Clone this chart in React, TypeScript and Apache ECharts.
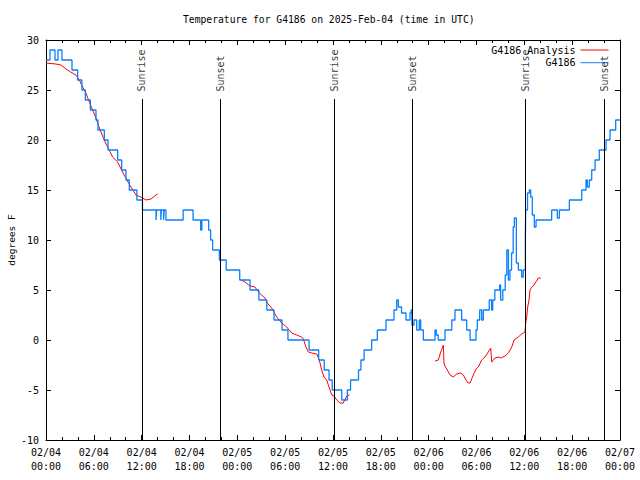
import React, { useEffect, useRef } from "react";
import * as echarts from "echarts";

// ---- Data (hours since 2025-02-04 00:00 UTC, degrees F) ----
const dayLabels = ["02/04", "02/05", "02/06", "02/07"];

const sunHours = [12.04, 21.86, 36.13, 45.95, 60.12, 70.03];
const sunLabels = ["Sunrise", "Sunset", "Sunrise", "Sunset", "Sunrise", "Sunset"];

// Observations (each point starts a new level)
const observed: [number, number][] = [
  [0, 28], [0.5, 29], [1.13, 28], [1.5, 29], [2.0, 28], [3.26, 27], [3.97, 26], [4.5, 25],
  [4.93, 24], [5.56, 23], [6.27, 22], [6.52, 21], [7.32, 20], [7.78, 19], [8.99, 18], [9.49, 17],
  [10.03, 16], [10.45, 15], [11.4, 14], [12.1, 13], [13.8, 12], [13.88, 13], [14.4, 12], [14.48, 13],
  [14.75, 12], [14.83, 13], [15.05, 12], [17.2, 13], [18.45, 12], [19.4, 11], [19.55, 12], [20.4, 11],
  [20.65, 10], [20.9, 9], [21.75, 8], [22.6, 7], [24.3, 6], [25.6, 5], [26.7, 4], [27.7, 3],
  [28.6, 2], [29.6, 1], [30.35, 0], [33.0, -1], [34.2, -2], [34.9, -3], [35.5, -4], [35.9, -5],
  [37.1, -6], [37.8, -5], [38.2, -4], [39.2, -3], [39.5, -2], [39.9, -1], [40.85, 0], [41.56, 1],
  [42.65, 2], [43.65, 3], [43.99, 4], [44.2, 3.3], [44.6, 2.7], [45.16, 2], [45.66, 2.7], [45.8, 3],
  [45.9, 1.5], [46.16, 2], [46.5, 1], [46.83, 2], [47.0, 1], [47.33, 0], [48.8, 1], [48.95, 0.5],
  [49.2, 0], [50.05, 1], [50.9, 2], [51.3, 3], [52.14, 2], [52.77, 1], [53.2, 0], [53.94, 1],
  [54.1, 2], [54.4, 3], [54.65, 2], [54.86, 3], [55.6, 4], [55.9, 3], [56.03, 4], [56.3, 5],
  [56.9, 5.5], [57.03, 4], [57.3, 5], [57.6, 6.5], [57.8, 9], [58.0, 6], [58.2, 7], [58.4, 8.7],
  [58.6, 11.3], [58.75, 12.2], [59.0, 7.7], [59.25, 7], [59.67, 6.3], [59.87, 7], [60.13, 10.3], [60.17, 13],
  [60.4, 14.7], [60.63, 15], [60.8, 14.3], [61.0, 12.5], [61.25, 11.3], [61.47, 12], [63.43, 13], [64.14, 12.2],
  [64.4, 13], [65.65, 14], [67.2, 15], [67.74, 16], [67.9, 15.3], [68.15, 16], [68.45, 17], [68.87, 18],
  [69.4, 19], [70.25, 20], [70.75, 21], [71.46, 22], [72, 22],
];

// Analysis, three separate runs
const analysisA: [number, number][] = [
  [0, 27.7], [1.25, 27.6], [1.88, 27.5], [2.5, 27.1], [3.1, 26.8], [3.76, 26.5], [4.18, 26.0],
  [4.6, 25.3], [5.0, 24.7], [5.43, 23.8], [5.85, 23.0], [6.27, 22.2], [6.69, 21.2], [7.3, 20.0],
  [7.73, 19.3], [8.36, 18.3], [8.99, 17.8], [9.6, 16.8], [10.0, 16.2], [10.66, 15.3], [11.29, 14.5],
  [11.9, 14.3], [12.54, 14.0], [13.17, 14.1], [13.8, 14.5], [14.0, 14.6],
];
const analysisB: [number, number][] = [
  [24.46, 6.0], [24.96, 5.8], [25.59, 5.4], [26.2, 5.3], [26.76, 4.7], [27.47, 4.2], [27.76, 3.7],
  [28.31, 3.2], [28.94, 2.3], [29.57, 1.7], [30.19, 1.3], [30.82, 0.7], [31.45, 0.5], [32.07, 0.3],
  [32.28, 0.1], [32.61, -0.7], [32.9, -1.2], [33.33, -1.3], [33.96, -1.4], [34.28, -2], [34.58, -3],
  [34.87, -3.7], [35.21, -4], [35.5, -4.7], [35.84, -5.5], [36.13, -5.6], [36.46, -6], [36.88, -6.3],
  [37.29, -6.3], [37.72, -5.6], [38.07, -5.5],
];
const analysisC: [number, number][] = [
  [48.8, -2.1], [49.21, -2.0], [49.51, -1.2], [49.76, -0.7], [49.84, -0.5], [49.92, -2.3], [50.05, -2.6],
  [50.34, -3.0], [50.68, -3.5], [51.09, -3.7], [51.52, -3.4], [52.02, -3.3], [52.35, -3.5], [52.68, -4.0],
  [52.97, -4.3], [53.19, -4.3], [53.6, -3.5], [53.94, -2.9], [54.23, -2.7], [54.65, -2.0], [55.07, -1.7],
  [55.48, -1.2], [55.78, -0.8], [55.91, -2.2], [56.32, -1.8], [56.74, -1.7], [57.04, -1.8], [57.58, -1.6],
  [57.99, -1.3], [58.42, -0.7], [58.71, 0], [59.24, 0.3], [59.67, 0.6], [60.09, 0.8], [60.17, 1.7],
  [60.3, 2.3], [60.42, 3.3], [60.59, 4], [60.71, 5], [60.93, 5.3], [61.13, 5.4], [61.34, 5.7],
  [61.55, 5.9], [61.75, 6.2], [62.05, 6.2],
];

const MONO = "'DejaVu Sans Mono', monospace";
const BLUE = "#0a80ff";
const RED = "#ff0000";
const LINE_TOP = 24.1;

function pad(n: number) {
  return n < 10 ? "0" + n : String(n);
}

export default function App() {
  const ref = useRef<HTMLDivElement>(null);

  useEffect(() => {
    if (!ref.current) return;
    const chart = echarts.init(ref.current, undefined, { renderer: "svg" });

    const xCommon = {
      type: "value",
      min: 0,
      max: 72,
      interval: 6,
      axisLine: { show: true, onZero: false, lineStyle: { color: "#000", width: 1 } },
      axisTick: { show: true, inside: true, length: 5, lineStyle: { color: "#000" } },
      minorTick: { show: true, splitNumber: 3, length: 3, lineStyle: { color: "#000" } },
      splitLine: { show: false },
    };
    const yCommon = {
      type: "value",
      min: -10,
      max: 30,
      interval: 5,
      axisLine: { show: true, onZero: false, lineStyle: { color: "#000", width: 1 } },
      axisTick: { show: true, inside: true, length: 5, lineStyle: { color: "#000" } },
      splitLine: { show: false },
    };
    const legendCommon = {
      orient: "vertical",
      right: 31,
      padding: 0,
      align: "right",
      itemWidth: 28,
      itemHeight: 10,
      selectedMode: false,
      itemStyle: { opacity: 0 },
      lineStyle: { width: 1 },
      textStyle: { fontFamily: MONO, fontSize: 10, color: "#000" },
    };

    const analysisStyle = {
      type: "line",
      name: "G4186 Analysis",
      symbol: "none",
      showSymbol: false,
      lineStyle: { color: RED, width: 1 },
      itemStyle: { color: RED },
      z: 2,
    };

    chart.setOption({
      animation: false,
      backgroundColor: "#ffffff",
      title: {
        text: "Temperature for G4186 on 2025-Feb-04 (time in UTC)",
        left: 183,
        top: 14,
        padding: 0,
        textStyle: { fontFamily: MONO, fontSize: 9.7, fontWeight: "normal", color: "#000" },
      },
      grid: {
        left: 46,
        right: 20,
        top: 40,
        bottom: 40,
        containLabel: false,
        outerBoundsMode: "none",
      },
      legend: [
        { ...legendCommon, data: ["G4186 Analysis"], top: 45 },
        { ...legendCommon, data: ["G4186"], top: 57.7 },
      ],
      xAxis: [
        {
          ...xCommon,
          position: "bottom",
          axisLabel: {
            margin: 5,
            fontFamily: MONO,
            fontSize: 10,
            lineHeight: 14,
            color: "#000",
            formatter: (v: number) => {
              const d = Math.floor(v / 24);
              return dayLabels[d] + "\n" + pad(v % 24) + ":00";
            },
          },
        },
        { ...xCommon, position: "top", axisLabel: { show: false } },
      ],
      yAxis: [
        {
          ...yCommon,
          position: "left",
          name: "degrees F",
          nameLocation: "middle",
          nameGap: 30,
          nameRotate: 90,
          nameMoveOverlap: false,
          nameTextStyle: { fontFamily: MONO, fontSize: 9.5, color: "#000" },
          axisLabel: { margin: 7, fontFamily: MONO, fontSize: 10, color: "#000" },
        },
        { ...yCommon, position: "right", axisLabel: { show: false } },
      ],
      series: [
        { ...analysisStyle, data: analysisA },
        { ...analysisStyle, data: analysisB },
        { ...analysisStyle, data: analysisC },
        {
          type: "line",
          name: "G4186",
          step: "end",
          data: observed,
          symbol: "none",
          showSymbol: false,
          lineStyle: { color: BLUE, width: 1.3 },
          itemStyle: { color: BLUE },
          z: 3,
        },
        {
          type: "scatter",
          name: "sun",
          data: sunHours.map((h, i) => ({ value: [h, LINE_TOP], name: sunLabels[i] })),
          symbol: "circle",
          symbolSize: 1,
          itemStyle: { color: "rgba(0,0,0,0)" },
          silent: true,
          label: {
            show: true,
            formatter: "{b}",
            position: "top",
            distance: 7,
            rotate: 90,
            align: "left",
            verticalAlign: "middle",
            fontFamily: MONO,
            fontSize: 10,
            color: "#000",
          },
          markLine: {
            silent: true,
            symbol: ["none", "none"],
            label: { show: false },
            lineStyle: { color: "#000", width: 1, type: "solid" },
            data: sunHours.map((h) => [{ coord: [h, -10] }, { coord: [h, LINE_TOP] }]),
          },
          z: 4,
        },
      ],
    });

    return () => chart.dispose();
  }, []);

  return (
    <div
      ref={ref}
      style={{ position: "absolute", left: 0, top: 0, width: 640, height: 480, background: "#fff" }}
    />
  );
}
